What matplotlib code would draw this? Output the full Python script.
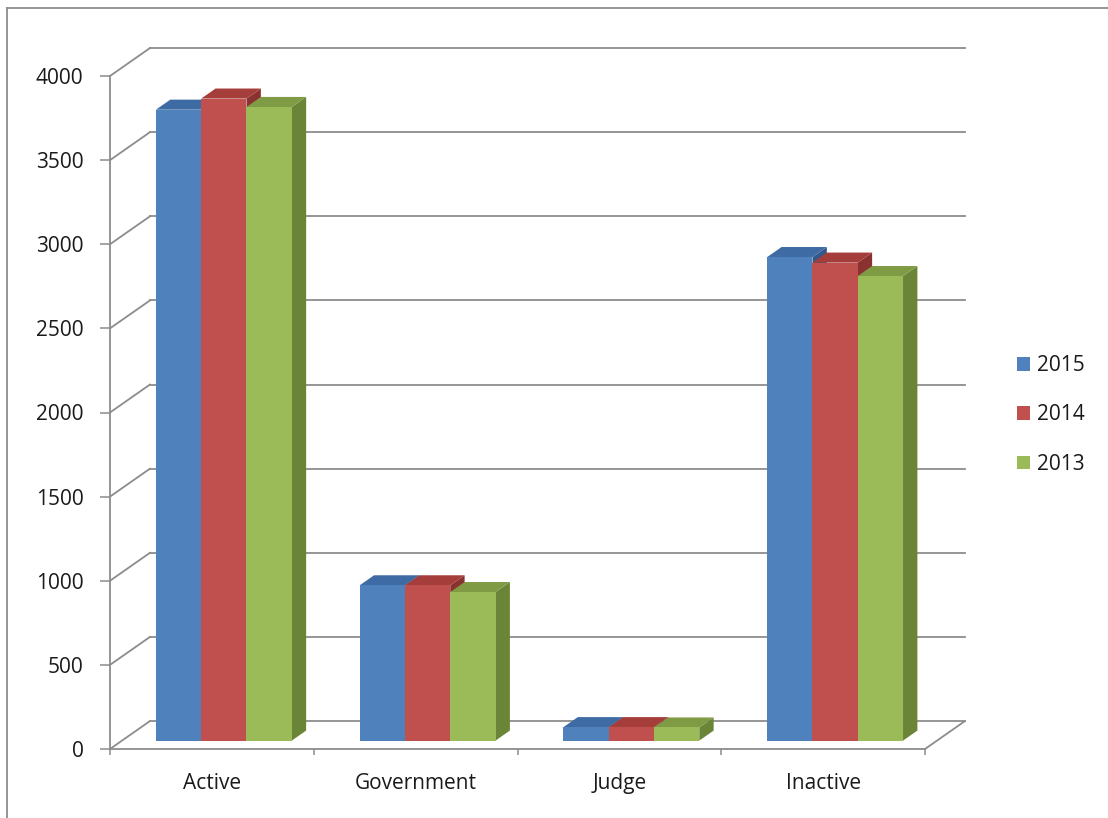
import matplotlib
matplotlib.use("Agg")
import matplotlib.pyplot as plt
from matplotlib.patches import Patch
from matplotlib.lines import Line2D

plt.rcParams['font.family'] = ['Open Sans', 'DejaVu Sans']

# %% data
categories = ['Active', 'Government', 'Judge', 'Inactive']
years = ['2015', '2014', '2013']
v2015 = [3750, 923, 80, 2874]
v2014 = [3816, 923, 80, 2841]
v2013 = [3766, 883, 78, 2761]
yticks = [0, 500, 1000, 1500, 2000, 2500, 3000, 3500, 4000]

# %% style
front = ['#4F81BD', '#C0504D', '#9BBB59']
top = ['#3E6BA3', '#A53E3B', '#7F9C45']
side = ['#33598A', '#8A3230', '#6A8537']
grid_c = '#8c8c8c'
text_c = '#1a1a1a'

# depth of the "3d" box in data units, and where the bars sit in it
DX, DY = 0.196, 166
f0, f1 = 0.30, 0.66
gap = 1.5  # excel gap width 150%
w = 1 / (3 + gap)

fig = plt.figure(figsize=(11.08, 8.18), dpi=100)
ax = fig.add_axes([110 / 1108, 69 / 818, 815 / 1108, 673 / 818])
ax.set_xlim(0, 4)
ax.set_ylim(0, 4000)

# back wall gridlines + side wall diagonals
for v in yticks:
    ax.plot([DX, 4 + DX], [v + DY, v + DY], color=grid_c, lw=1.3, clip_on=False, zorder=1)
    ax.plot([0, DX], [v, v + DY], color=grid_c, lw=1.3, clip_on=False, zorder=1)
ax.plot([4, 4 + DX], [0, DY], color=grid_c, lw=1.3, clip_on=False, zorder=1)

# bars
series = [v2015, v2014, v2013]
for i in range(len(categories)):
    for j, vals in enumerate(series):
        h = vals[i]
        x0 = i + gap / 2 * w + j * w + f0 * DX
        x1 = x0 + w
        y0 = f0 * DY
        y1 = h + f0 * DY
        ddx, ddy = (f1 - f0) * DX, (f1 - f0) * DY
        # right side
        ax.fill([x1, x1 + ddx, x1 + ddx, x1], [y0, y0 + ddy, y1 + ddy, y1],
                color=side[j], lw=0, clip_on=False, zorder=3)
        # top
        ax.fill([x0, x1, x1 + ddx, x0 + ddx], [y1, y1, y1 + ddy, y1 + ddy],
                color=top[j], lw=0, clip_on=False, zorder=3)
        # front
        ax.fill([x0, x1, x1, x0], [y0, y0, y1, y1],
                color=front[j], lw=0, clip_on=False, zorder=3)

# axes
for s in ['top', 'right']:
    ax.spines[s].set_visible(False)
for s in ['left', 'bottom']:
    ax.spines[s].set_color(grid_c)
    ax.spines[s].set_linewidth(1.3)
ax.set_yticks(yticks)
ax.tick_params(axis='y', direction='out', length=7, width=1.1, color=grid_c,
               pad=12, labelsize=15, labelcolor=text_c)
ax.set_xticks([0, 1, 2, 3, 4])
ax.set_xticklabels([])
ax.set_xticks([0.5, 1.5, 2.5, 3.5], minor=True)
ax.set_xticklabels(categories, minor=True)
ax.tick_params(axis='x', which='major', direction='out', length=4.5, width=1.1, color=grid_c)
ax.tick_params(axis='x', which='minor', length=0, pad=17, labelsize=15, labelcolor=text_c)

# legend
handles = [Patch(facecolor=c, edgecolor='none') for c in front]
fig.legend(handles, years, loc='center left', bbox_to_anchor=(998 / 1108, 1 - 415 / 818),
           frameon=False, fontsize=15, labelcolor=text_c, handlelength=0.62, handleheight=0.62,
           handletextpad=0.35, labelspacing=1.35)

# chart area border (cut off at right / bottom in the screenshot)
fig.add_artist(Line2D([7 / 1108, 1.0], [1 - 8 / 818, 1 - 8 / 818], transform=fig.transFigure,
                      color='#8c8c8c', lw=1.3))
fig.add_artist(Line2D([7 / 1108, 7 / 1108], [0, 1 - 8 / 818], transform=fig.transFigure,
                      color='#8c8c8c', lw=1.3))

fig.savefig('out.png', dpi=100)
